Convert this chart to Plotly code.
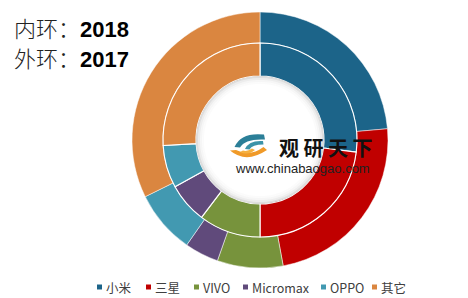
import plotly.graph_objects as go

W, H = 468, 298

# ---- data ----
brands = ["小米", "三星", "VIVO", "Micromax", "OPPO", "其它"]
share_2018 = [27.0, 23.0, 10.3, 6.7, 7.1, 25.9]   # inner ring
share_2017 = [23.6, 23.5, 8.3, 4.3, 8.0, 32.3]    # outer ring
colors = ["#1C6489", "#C00000", "#77933C", "#604A7B", "#4299B1", "#DA8640"]


def px(x):
    return x / W


def py(y):
    return 1 - y / H


# geometry (pixels)
cx, cy = 260, 140
R_out, R_mid, R_in = 128, 97, 64

fig = go.Figure()

fig.add_trace(go.Pie(
    labels=brands, values=share_2017, sort=False, direction="clockwise",
    hole=R_mid / R_out, textinfo="none", hoverinfo="label+percent",
    marker=dict(colors=colors, line=dict(color="white", width=0.5)),
    domain=dict(x=[px(cx - R_out), px(cx + R_out)], y=[py(cy + R_out), py(cy - R_out)]),
    showlegend=False, name="2017",
))
fig.add_trace(go.Pie(
    labels=brands, values=share_2018, sort=False, direction="clockwise",
    hole=R_in / R_mid, textinfo="none", hoverinfo="label+percent",
    marker=dict(colors=colors, line=dict(color="white", width=1.1)),
    domain=dict(x=[px(cx - R_mid), px(cx + R_mid)], y=[py(cy + R_mid), py(cy - R_mid)]),
    showlegend=False, name="2018",
))

shapes = []
# soft inner shadow of the centre
for r, a, w in [(R_in - 1, 0.13, 2), (R_in - 3, 0.07, 2), (R_in - 5, 0.035, 2), (R_in - 7, 0.015, 2)]:
    shapes.append(dict(type="circle", xref="paper", yref="paper",
                       x0=px(cx - r), x1=px(cx + r), y0=py(cy + r), y1=py(cy - r),
                       line=dict(color=f"rgba(0,0,0,{a})", width=w), layer="above"))


def path(pts):
    out = []
    for p in pts:
        if isinstance(p, str):
            out.append(p)
        else:
            out.append(f"{px(p[0]):.5f},{py(p[1]):.5f}")
    return " ".join(out)


# logo icon (decoration)
teal_a = path(["M", (264, 134.5), "Q", (241, 132), (234.5, 147), "L", (240, 147.5),
               "Q", (245, 138.5), (265, 139.5), "Z"])
teal_b = path(["M", (263, 141), "Q", (249, 140), (245, 149), "L", (249.5, 149.5),
               "Q", (252, 144.5), (263.5, 144.5), "Z"])
orange_a = path(["M", (230, 150.5), "Q", (246, 164), (267, 150), "L", (263.5, 147),
                 "Q", (250, 157), (236, 150), "Z"])
orange_b = path(["M", (240, 152), "Q", (248, 156), (255, 150), "L", (252, 148.5),
                 "Q", (247, 152), (243, 150.5), "Z"])
for pth, col in [(teal_a, "#2B7F98"), (teal_b, "#3C93A8"), (orange_a, "#F09A28"), (orange_b, "#F5B040")]:
    shapes.append(dict(type="path", xref="paper", yref="paper", path=pth,
                       fillcolor=col, line=dict(width=0), layer="above"))

# legend (manual, compact like the reference)
leg_marker_x = [97, 146, 194, 243, 321, 372]
leg_y = 287
annotations = []
for name, col, mx in zip(brands, colors, leg_marker_x):
    shapes.append(dict(type="rect", xref="paper", yref="paper",
                       x0=px(mx), x1=px(mx + 5), y0=py(leg_y + 2.5), y1=py(leg_y - 2.5),
                       fillcolor=col, line=dict(width=0), layer="above"))
    annotations.append(dict(x=px(mx + 7), y=py(leg_y), xref="paper", yref="paper",
                            text=name, showarrow=False, xanchor="left", yanchor="middle",
                            font=dict(family="Noto Sans CJK SC", size=12.5, color="#404040")))

# title texts
for i, (ring, yr) in enumerate([("内环：", "2018"), ("外环：", "2017")]):
    annotations.append(dict(
        x=px(12), y=py(27 + 30 * i), xref="paper", yref="paper", showarrow=False,
        xanchor="left", yanchor="middle",
        text=f"{ring}<span style='font-family:Liberation Sans;font-weight:bold;color:#000'>{yr}</span>",
        font=dict(family="Noto Sans CJK SC", size=22, color="#222222", weight=300)))

# logo texts
annotations.append(dict(x=px(326), y=py(147), xref="paper", yref="paper", showarrow=False,
                        xanchor="center", yanchor="middle", text="<b>观 研 天 下</b>",
                        font=dict(family="Noto Sans CJK SC", size=20, color="#111111")))
annotations.append(dict(x=px(302.5), y=py(168), xref="paper", yref="paper", showarrow=False,
                        xanchor="center", yanchor="middle", text="www.chinabaogao.com",
                        font=dict(family="Liberation Sans", size=13, color="#222222")))

fig.update_layout(
    width=W, height=H, margin=dict(l=0, r=0, t=0, b=0),
    paper_bgcolor="white", plot_bgcolor="white",
    shapes=shapes, annotations=annotations, showlegend=False,
)

fig.write_html("out.html")
